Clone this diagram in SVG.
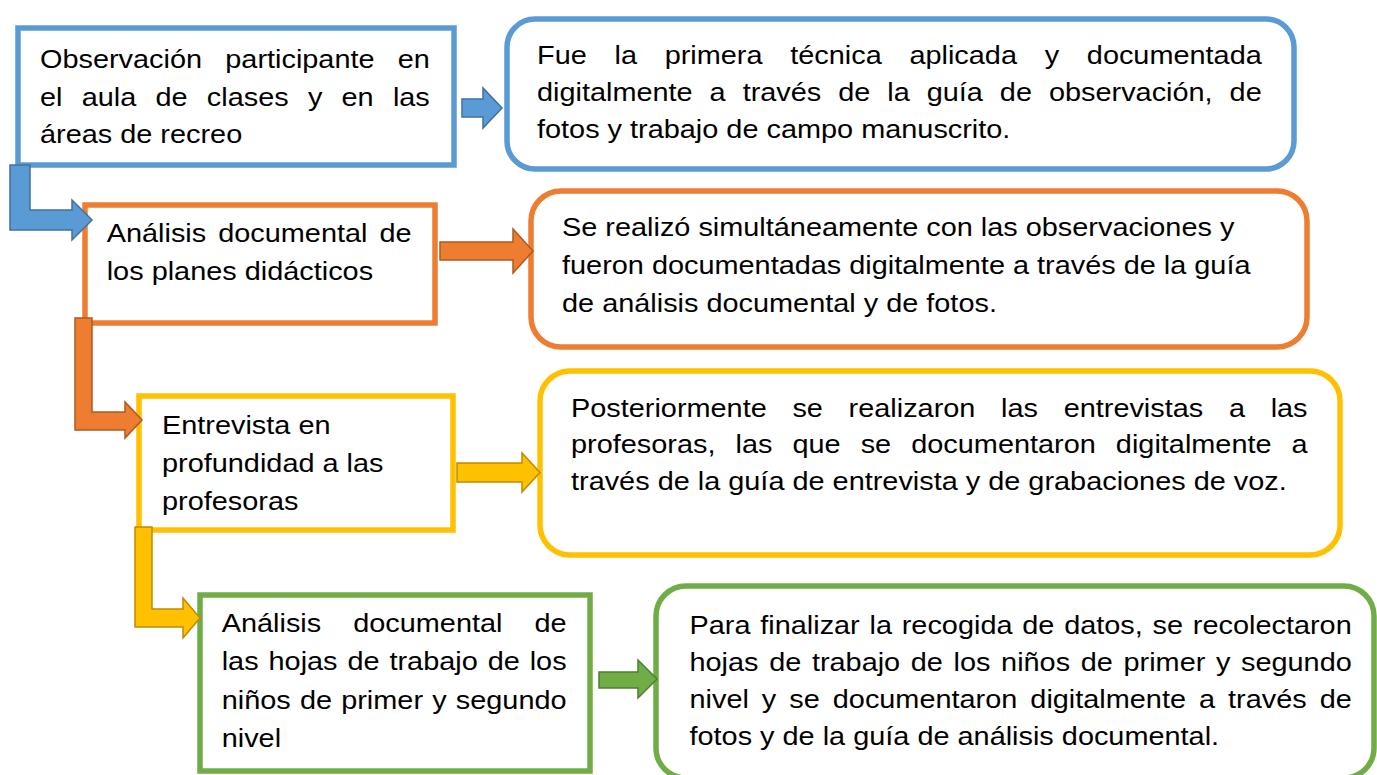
<svg xmlns="http://www.w3.org/2000/svg" width="1377" height="775" viewBox="0 0 1377 775">
<style>
.t{font-family:"Liberation Sans",Arial,sans-serif;font-size:26.5px;fill:#000}
.box{fill:#fff;stroke-width:5.5}
.blue{stroke:#5B9BD5}.orange{stroke:#ED7D31}.yellow{stroke:#FFC000}.green{stroke:#70AD47}
.ab{fill:#5B9BD5;stroke:#41719C}.ao{fill:#ED7D31;stroke:#AE5A21}.ay{fill:#FFC000;stroke:#BC8C00}.ag{fill:#70AD47;stroke:#507E32}
.arr{stroke-width:1.5;stroke-linejoin:miter}
</style>
<rect width="1377" height="775" fill="#fff"/>
<g id="n1">
<rect class="box blue" x="18" y="28" width="436" height="137"/>
<g transform="translate(40 0) scale(1.09 1)">
<text class="t" x="0" y="68" style="word-spacing:13.95px">Observación participante en</text>
<text class="t" x="0" y="106" style="word-spacing:10.28px">el aula de clases y en las</text>
<text class="t" x="0" y="143.5">áreas de recreo</text>
</g>
</g>
<g id="d1">
<rect class="box blue" x="507" y="19" width="787" height="150" rx="28"/>
<g transform="translate(537 0) scale(1.09 1)">
<text class="t" x="0" y="64" style="word-spacing:18.07px">Fue la primera técnica aplicada y documentada</text>
<text class="t" x="0" y="101" style="word-spacing:8.2px">digitalmente a través de la guía de observación, de</text>
<text class="t" x="0" y="138">fotos y trabajo de campo manuscrito.</text>
</g>
</g>
<g id="n2">
<rect class="box orange" x="85" y="205" width="350" height="118"/>
<g transform="translate(106.7 0) scale(1.09 1)">
<text class="t" x="0" y="242" style="word-spacing:3.65px">Análisis documental de</text>
<text class="t" x="0" y="280">los planes didácticos</text>
</g>
</g>
<g id="d2">
<rect class="box orange" x="531" y="191" width="776" height="156" rx="30"/>
<g transform="translate(562 0) scale(1.09 1)">
<text class="t" x="0" y="236">Se realizó simultáneamente con las observaciones y</text>
<text class="t" x="0" y="274">fueron documentadas digitalmente a través de la guía</text>
<text class="t" x="0" y="312">de análisis documental y de fotos.</text>
</g>
</g>
<g id="n3">
<rect class="box yellow" x="139" y="396" width="314" height="134"/>
<g transform="translate(162 0) scale(1.09 1)">
<text class="t" x="0" y="434">Entrevista en</text>
<text class="t" x="0" y="472">profundidad a las</text>
<text class="t" x="0" y="510">profesoras</text>
</g>
</g>
<g id="d3">
<rect class="box yellow" x="540" y="371" width="800" height="184" rx="30"/>
<g transform="translate(571 0) scale(1.09 1)">
<text class="t" x="0" y="417" style="word-spacing:16.2px">Posteriormente se realizaron las entrevistas a las</text>
<text class="t" x="0" y="453.5" style="word-spacing:11.05px">profesoras, las que se documentaron digitalmente a</text>
<text class="t" x="0" y="490">través de la guía de entrevista y de grabaciones de voz.</text>
</g>
</g>
<g id="n4">
<rect class="box green" x="200" y="595" width="390" height="176"/>
<g transform="translate(221.7 0) scale(1.09 1)">
<text class="t" x="0" y="632" style="word-spacing:22px">Análisis documental de</text>
<text class="t" x="0" y="670.5" style="word-spacing:1.74px">las hojas de trabajo de los</text>
<text class="t" x="0" y="709" style="word-spacing:1.07px">niños de primer y segundo</text>
<text class="t" x="0" y="747">nivel</text>
</g>
</g>
<g id="d4">
<rect class="box green" x="656" y="586" width="718" height="192" rx="30"/>
<g transform="translate(689.5 0) scale(1.09 1)">
<text class="t" x="0" y="634" style="word-spacing:1.61px">Para finalizar la recogida de datos, se recolectaron</text>
<text class="t" x="0" y="671.5" style="word-spacing:2.4px">hojas de trabajo de los niños de primer y segundo</text>
<text class="t" x="0" y="708.5" style="word-spacing:4.56px">nivel y se documentaron digitalmente a través de</text>
<text class="t" x="0" y="745">fotos y de la guía de análisis documental.</text>
</g>
</g>
<g id="connectors">
<polygon class="arr ab" points="462,99 483,99 483,88 502,108 483,128 483,117 462,117"/>
<polygon class="arr ab" points="10,165 30,165 30,210 72,210 72,200 92,220 72,240 72,230 10,230"/>
<polygon class="arr ao" points="440,242 513,242 513,229 533,251 513,273 513,260 440,260"/>
<polygon class="arr ao" points="75,318 92,318 92,412 125,412 125,402 142,420 125,438 125,430 75,430"/>
<polygon class="arr ay" points="457,463 522,463 522,453 540,472.5 522,492 522,482 457,482"/>
<polygon class="arr ay" points="135,527 152,527 152,609 183,609 183,598 200,618 183,638 183,627 135,627"/>
<polygon class="arr ag" points="599,672 638,672 638,660 657,679 638,698 638,688 599,688"/>
</g>
</svg>
